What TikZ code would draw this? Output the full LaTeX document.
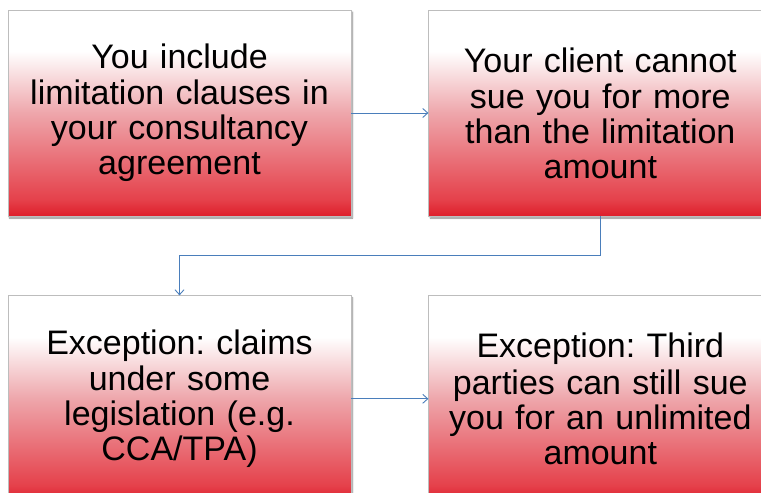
\documentclass[tikz,border=0pt]{standalone}
\usepackage{fontspec}
\setmainfont{Liberation Sans}
\frenchspacing
\usetikzlibrary{arrows.meta, positioning, shadows.blur, calc}
\definecolor{claimred}{HTML}{DE1E2A}
\definecolor{claimredlt}{HTML}{E5414B}
\definecolor{claimpink}{HTML}{EEA6AB}
\definecolor{linkblue}{HTML}{4A7EBB}
\definecolor{edgegrey}{HTML}{BDBDBD}
% white top fading into red at the bottom
\pgfdeclareverticalshading{claimshade}{100bp}{%
  color(0bp)=(claimred); color(25bp)=(claimred); color(29bp)=(claimredlt);
  color(50bp)=(claimpink); color(65bp)=(white); color(100bp)=(white)}
\tikzset{
  claimbox/.style={rectangle, draw=edgegrey, line width=0.8pt, shading=claimshade,
                   minimum width=343pt, minimum height=206pt, text width=335pt,
                   align=center, font=\fontsize{34}{35}\selectfont,
                   blur shadow={shadow xshift=1.5pt, shadow yshift=-2pt,
                                shadow blur radius=1.5pt, shadow opacity=45}},
  flowlink/.style={-{Straight Barb[length=5pt,width=9pt]}, line width=0.9pt, draw=linkblue},
}
\begin{document}
\begin{tikzpicture}[x=1pt, y=-1pt]
  \useasboundingbox (0,0) rectangle (761,493);
  \clip (0,0) rectangle (761,493);

  % --- boxes ---
  \node[claimbox] (incl) at (179.5,113)
    {\strut You include\\limitation clauses in\\your consultancy\\agreement};
  \node[claimbox, right=77pt of incl] (nosue)
    {\strut Your client cannot\\sue you for more\\than the limitation\\amount};
  \node[claimbox, below=79pt of incl] (statute)
    {\strut Exception: claims\\under some\\legislation (e.g.\\CCA/TPA)};
  \node[claimbox, right=77pt of statute] (third)
    {\strut Exception: Third\\parties can still sue\\you for an unlimited\\amount};

  % --- connectors ---
  \draw[flowlink] (incl) -- (nosue);
  \draw[flowlink] (nosue.south) -- ++(0,39.5) -| (statute.north);
  \draw[flowlink] (statute) -- (third);
\end{tikzpicture}
\end{document}
